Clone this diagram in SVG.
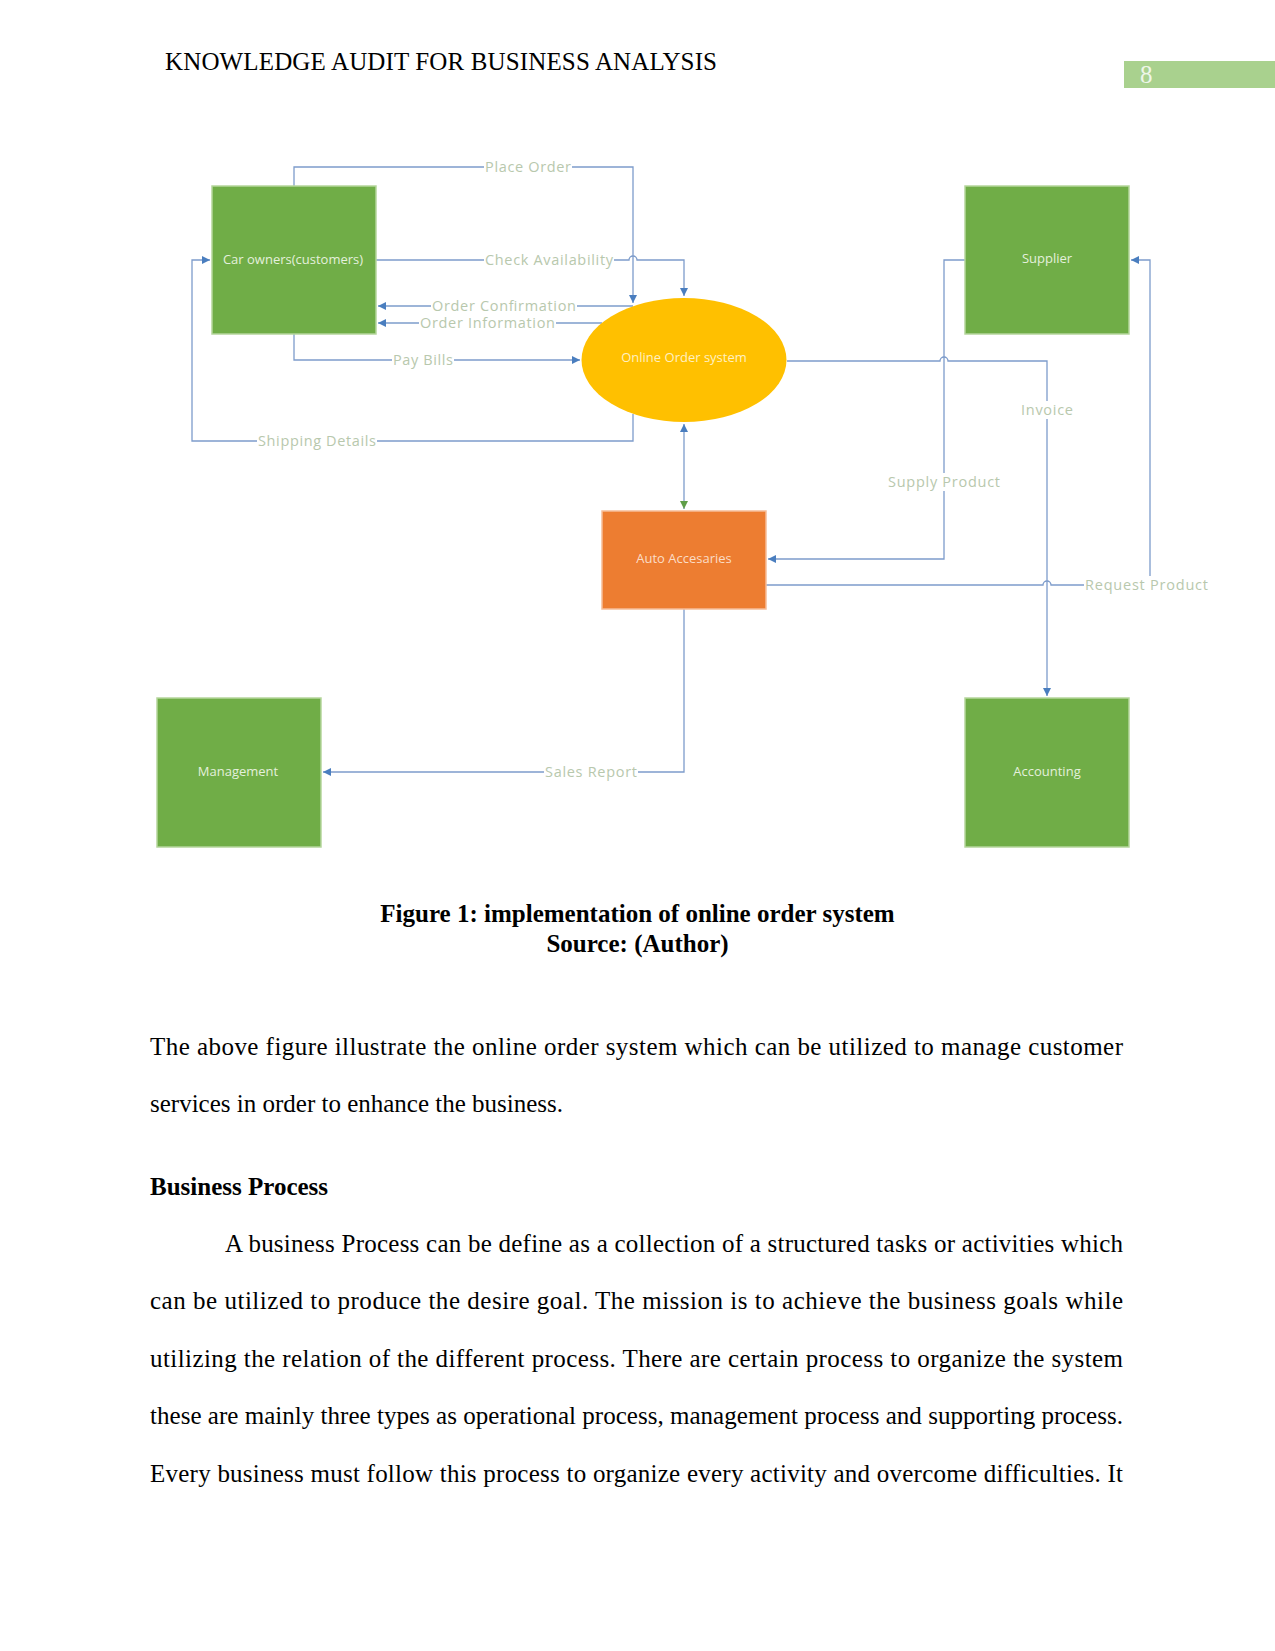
<svg xmlns="http://www.w3.org/2000/svg" width="1275" height="1651" viewBox="0 0 1275 1651">
<style>
.page{font-family:"Liberation Serif","Times New Roman",serif;fill:#000;font-size:25px}
.b{font-weight:bold}
.box{fill:#70ad47;stroke:#b5d69c;stroke-width:1.5}
.nt{font-family:"Open Sans","Liberation Sans",sans-serif;font-size:13px;fill:#e4f0dc;text-anchor:middle}
.ln{fill:none;stroke:#7d9ccb;stroke-width:1.3}
.lb{font-family:"Open Sans","Liberation Sans",sans-serif;font-size:14.5px;fill:#b8c8ad}
.bg{fill:#fff}
</style>
<defs>
<marker id="ab" viewBox="0 0 10 10" refX="10" refY="5" markerWidth="9" markerHeight="8" markerUnits="userSpaceOnUse" orient="auto-start-reverse"><path d="M0,0 L10,5 L0,10 z" fill="#4a7ebf"/></marker>
<marker id="ag" viewBox="0 0 10 10" refX="10" refY="5" markerWidth="9" markerHeight="8" markerUnits="userSpaceOnUse" orient="auto"><path d="M0,0 L10,5 L0,10 z" fill="#5f9e48"/></marker>
</defs>
<rect width="1275" height="1651" fill="#fff"/>
<text class="page" x="165" y="70" textLength="552" lengthAdjust="spacing">KNOWLEDGE AUDIT FOR BUSINESS ANALYSIS</text>
<rect x="1124" y="61" width="151" height="27" fill="#a9d18e"/>
<text class="page" x="1140" y="83" style="fill:#eef6e8">8</text>

<g id="connectors">
<path class="ln" d="M294,186 V167 H633 V303" marker-end="url(#ab)"/>
<path class="ln" d="M376,260 H629 a4,4 0 0 1 8,0 H684 V296" marker-end="url(#ab)"/>
<path class="ln" d="M633,306 H378" marker-end="url(#ab)"/>
<path class="ln" d="M602,323 H378" marker-end="url(#ab)"/>
<path class="ln" d="M294,334 V360 H580" marker-end="url(#ab)"/>
<path class="ln" d="M633,414 V441 H192 V260 H210" marker-end="url(#ab)"/>
<path class="ln" d="M684,424 V509" marker-start="url(#ab)" marker-end="url(#ag)"/>
<path class="ln" d="M965,260 H944 V559 H768" marker-end="url(#ab)"/>
<path class="ln" d="M787,361 H940 a4,4 0 0 1 8,0 H1047 V696" marker-end="url(#ab)"/>
<path class="ln" d="M766,585 H1043 a4,4 0 0 1 8,0 H1150 V260 H1131" marker-end="url(#ab)"/>
<path class="ln" d="M684,609 V772 H323" marker-end="url(#ab)"/>
<g id="labels">
<rect class="bg" x="484" y="158" width="88" height="18"/><text class="lb" x="485" y="172" textLength="86">Place Order</text>
<rect class="bg" x="484" y="251" width="130" height="18"/><text class="lb" x="485" y="265" textLength="128">Check Availability</text>
<rect class="bg" x="431" y="297" width="146" height="18"/><text class="lb" x="432" y="311" textLength="144">Order Confirmation</text>
<rect class="bg" x="419" y="315" width="137" height="16"/><text class="lb" x="420" y="328" textLength="135">Order Information</text>
<rect class="bg" x="392" y="351" width="62" height="18"/><text class="lb" x="393" y="365" textLength="60">Pay Bills</text>
<rect class="bg" x="257" y="432" width="120" height="18"/><text class="lb" x="258" y="446" textLength="118">Shipping Details</text>
<rect class="bg" x="887" y="473" width="114" height="18"/><text class="lb" x="888" y="487" textLength="112">Supply Product</text>
<rect class="bg" x="1020" y="401" width="54" height="18"/><text class="lb" x="1021" y="415" textLength="52">Invoice</text>
<rect class="bg" x="1084" y="576" width="125" height="18"/><text class="lb" x="1085" y="590" textLength="123">Request Product</text>
<rect class="bg" x="544" y="763" width="94" height="18"/><text class="lb" x="545" y="777" textLength="92">Sales Report</text>
</g>
</g>

<g id="car-owners"><rect class="box" x="212" y="186" width="164" height="148"/><text class="nt" x="293" y="264">Car owners(customers)</text></g>
<g id="online-order-system"><ellipse cx="684" cy="360" rx="102.5" ry="62" fill="#ffc000"/><text class="nt" x="684" y="362" style="fill:#fff0c2">Online Order system</text></g>
<g id="supplier"><rect class="box" x="965" y="186" width="164" height="148"/><text class="nt" x="1047" y="263">Supplier</text></g>
<g id="auto-accesaries"><rect x="602" y="511" width="164" height="98" fill="#ed7d31" stroke="#f6bd98" stroke-width="1.5"/><text class="nt" x="684" y="563" style="fill:#fbdcc6">Auto Accesaries</text></g>
<g id="management"><rect class="box" x="157" y="698" width="164" height="149"/><text class="nt" x="238" y="776">Management</text></g>
<g id="accounting"><rect class="box" x="965" y="698" width="164" height="149"/><text class="nt" x="1047" y="776">Accounting</text></g>

<text class="page b" x="637.5" y="922" text-anchor="middle">Figure 1: implementation of online order system</text>
<text class="page b" x="637.5" y="952" text-anchor="middle">Source: (Author)</text>

<text class="page" x="150" y="1055" textLength="973" lengthAdjust="spacing">The above figure illustrate the online order system which can be utilized to manage customer</text>
<text class="page" x="150" y="1112">services in order to enhance the business.</text>
<text class="page b" x="150" y="1195">Business Process</text>
<text class="page" x="225" y="1252" textLength="898" lengthAdjust="spacing">A business Process can be define as a collection of a structured tasks or activities which</text>
<text class="page" x="150" y="1309" textLength="973" lengthAdjust="spacing">can be utilized to produce the desire goal. The mission is to achieve the business goals while</text>
<text class="page" x="150" y="1367" textLength="973" lengthAdjust="spacing">utilizing the relation of the different process. There are certain process to organize the system</text>
<text class="page" x="150" y="1424" textLength="973" lengthAdjust="spacing">these are mainly three types as operational process, management process and supporting process.</text>
<text class="page" x="150" y="1482" textLength="973" lengthAdjust="spacing">Every business must follow this process to organize every activity and overcome difficulties. It</text>
</svg>
